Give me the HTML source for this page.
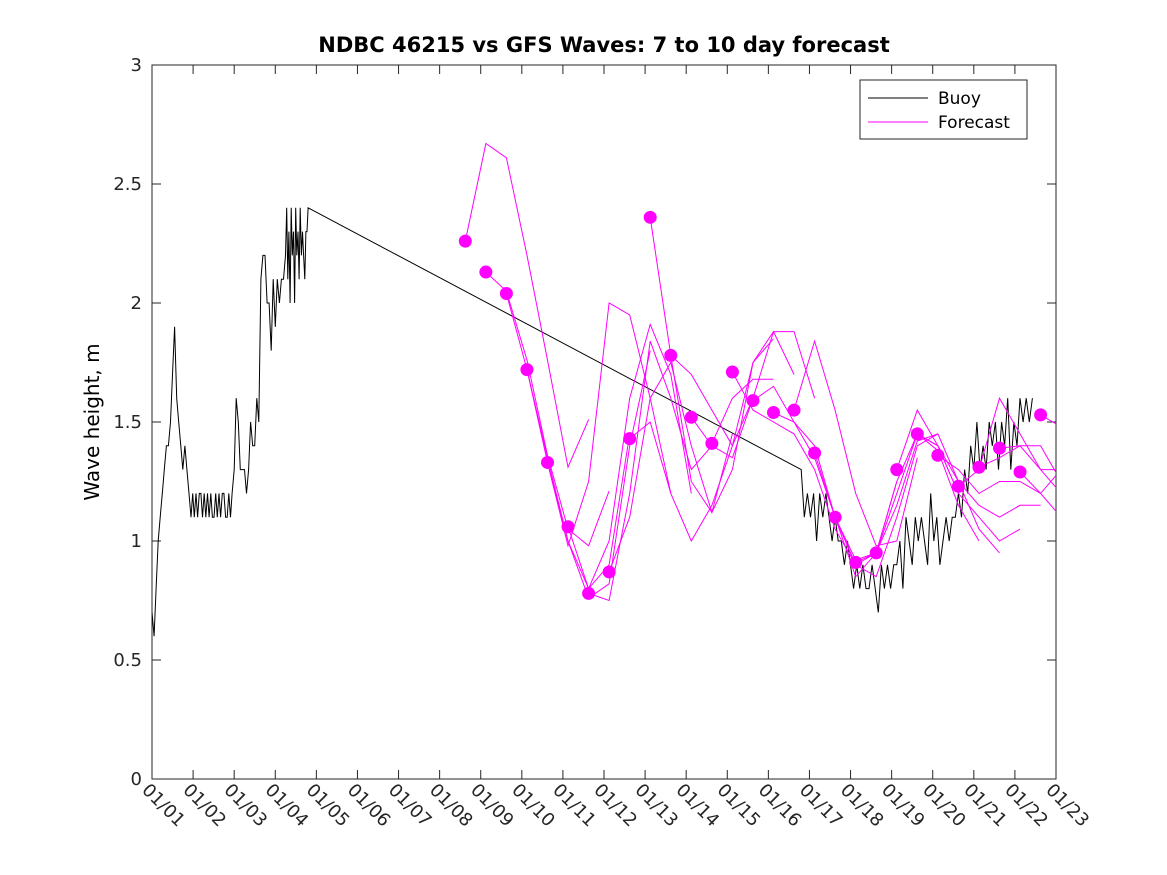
<!DOCTYPE html>
<html><head><meta charset="utf-8"><style>
body{margin:0;background:#fff;}
svg{display:block;font-family:"Liberation Sans","DejaVu Sans",sans-serif;}
</style></head><body>
<svg id="chart" width="1167" height="875" viewBox="0 0 1167 875">
<defs><clipPath id="plotclip"><rect x="152" y="65" width="904" height="714"/></clipPath></defs>
<rect width="1167" height="875" fill="#fff"/>
<text x="604" y="52" text-anchor="middle" font-size="21" font-weight="bold" font-family="DejaVu Sans, sans-serif">NDBC 46215 vs GFS Waves: 7 to 10 day forecast</text>
<text transform="translate(99,422) rotate(-90)" text-anchor="middle" font-size="20" font-family="DejaVu Sans, sans-serif">Wave height, m</text>
<rect x="152" y="65" width="904" height="714" fill="#fff" stroke="#262626" stroke-width="1"/>
<g id="axes"></g>
<g id="series" clip-path="url(#plotclip)"></g>
<g>
<rect x="860" y="80" width="167" height="59" fill="#fff" stroke="#262626"/>
<line x1="868" y1="98" x2="928" y2="98" stroke="#000"/>
<text x="938" y="104" font-size="17" font-family="DejaVu Sans, sans-serif">Buoy</text>
<line x1="868" y1="122" x2="928" y2="122" stroke="#ff00ff"/>
<text x="938" y="128" font-size="17" font-family="DejaVu Sans, sans-serif">Forecast</text>
</g>
</svg>
<script>
const xTickLabels=["01/01","01/02","01/03","01/04","01/05","01/06","01/07","01/08","01/09","01/10","01/11","01/12","01/13","01/14","01/15","01/16","01/17","01/18","01/19","01/20","01/21","01/22","01/23"];
const yTicks=[0,0.5,1,1.5,2,2.5,3];
const yTickLabels=["0","0.5","1","1.5","2","2.5","3"];
const buoySegStart=[0,0.95,2.0,3.25,15.8];
const buoySegStep=[0.05,0.04,0.05,0.0275,0.075];
const buoySegVals=[
[0.7,0.6,0.8,1.0,1.1,1.2,1.3,1.4,1.4,1.5,1.7,1.9,1.6,1.5,1.4,1.3,1.4,1.3,1.2],
[1.1,1.2,1.1,1.2,1.1,1.2,1.2,1.1,1.2,1.1,1.2,1.1,1.2,1.1,1.1,1.2,1.1,1.2,1.1,1.2,1.2,1.1,1.1,1.2,1.1,1.2],
[1.3,1.6,1.5,1.3,1.3,1.3,1.2,1.3,1.5,1.4,1.4,1.6,1.5,2.1,2.2,2.2,2.0,2.0,1.8,2.1,1.9,2.1,2.0,2.1,2.1],
[2.2,2.4,2.1,2.3,2.0,2.4,2.2,2.3,2.0,2.4,2.2,2.3,2.1,2.4,2.2,2.3,2.2,2.1,2.3,2.3,2.4],
[1.3,1.1,1.2,1.1,1.2,1.0,1.2,1.1,1.2,1.1,1.0,1.1,1.0,1.0,0.9,1.0,0.9,0.8,0.9,0.8,0.9,0.8,0.8,0.9,0.8,0.7,0.9,0.8,0.9,0.8,0.9,0.9,1.0,0.8,1.1,1.0,0.9,1.1,1.0,1.1,1.0,0.9,1.2,1.0,1.1,0.9,1.0,1.1,1.0,1.1,1.1,1.2,1.1,1.3,1.2,1.4,1.3,1.5,1.3,1.4,1.3,1.5,1.4,1.5,1.3,1.5,1.4,1.6,1.3,1.5,1.4,1.6,1.5,1.6,1.5,1.6]
];
const forecastStartDay=7.625;
const forecastStep=0.5;
const forecastLines=[
[2.26,2.67,2.61,2.20,1.76,1.31,1.51],
[2.13,2.05,1.76,1.36,1.05,0.98,1.21],
[2.04,1.72,1.35,1.00,0.80,0.90,1.45],
[1.72,1.33,1.00,0.76,0.82,1.40,1.80],
[1.33,0.98,1.25,2.00,1.95,1.60,1.20],
[1.06,0.80,1.00,1.60,1.91,1.70,1.20],
[0.78,0.75,1.20,1.84,1.60,1.30,1.40],
[0.87,1.10,1.60,1.75,1.40,1.12,1.45],
[1.43,1.50,1.20,1.00,1.15,1.40,1.60],
[2.36,1.78,1.25,1.12,1.30,1.75,1.85],
[1.78,1.70,1.55,1.40,1.75,1.88,1.70],
[1.52,1.40,1.35,1.60,1.88,1.88,1.60],
[1.41,1.60,1.68,1.68],
[1.71,1.55,1.50,1.45,1.30,1.05,0.90],
[1.59,1.65,1.50,1.35,1.10,0.90,0.95],
[1.54,1.50,1.40,1.10,0.92,0.95,1.25],
[1.55,1.84,1.55,1.20,0.98,1.00,1.35],
[1.37,1.10,0.90,0.85,1.10,1.40,1.45],
[1.10,0.85,0.95,1.25,1.45,1.40,1.20],
[0.91,0.95,1.20,1.45,1.38,1.15,1.00],
[0.95,1.15,1.42,1.45,1.25,1.05,0.95],
[1.30,1.55,1.40,1.20,1.10,1.00,1.05],
[1.45,1.40,1.25,1.15,1.10,1.15,1.15],
[1.36,1.30,1.20,1.25,1.25,1.20,1.10],
[1.23,1.30,1.60,1.45,1.30,1.20,1.08],
[1.31,1.35,1.40,1.40,1.25,1.15],
[1.39,1.40,1.30,1.30,1.40],
[1.29,1.20,1.30],
[1.53,1.48,1.75]
];
const NS="http://www.w3.org/2000/svg";
const X0=152,X1=1056,Y0=779,Y1=65,DAYS=22,YMAX=3;
function xs(d){return X0+(X1-X0)*d/DAYS;}
function ys(v){return Y0-(Y0-Y1)*v/YMAX;}
function mk(tag,attrs,parent){const e=document.createElementNS(NS,tag);for(const k in attrs)e.setAttribute(k,attrs[k]);parent.appendChild(e);return e;}
const axes=document.getElementById('axes'),series=document.getElementById('series');
yTicks.forEach((v,i)=>{
  const y=ys(v);
  const t1=mk('line',{x1:X0,y1:y,x2:X0+9,y2:y,stroke:'#262626'},axes);
  
  
  const t2=mk('line',{x1:X1,y1:y,x2:X1-9,y2:y,stroke:'#262626'},axes);
  
  
  const tx=mk('text',{x:X0-10,y:y+6,'text-anchor':'end','font-size':'18','font-family':'DejaVu Sans, sans-serif',fill:'#262626'},axes);
  tx.textContent=yTickLabels[i];
  
  
});
xTickLabels.forEach((lab,i)=>{
  const x=xs(i);
  const t1=mk('line',{x1:x,y1:Y0,x2:x,y2:Y0-9,stroke:'#262626'},axes);
  
  
  const t2=mk('line',{x1:x,y1:Y1,x2:x,y2:Y1+9,stroke:'#262626'},axes);
  
  
  const tx=mk('text',{transform:`translate(${x-11},${Y0+12}) rotate(45)`,'font-size':'18','font-family':'DejaVu Sans, sans-serif',fill:'#262626'},axes);
  tx.textContent=lab;
  
  
});
let bpts=[];
buoySegVals.forEach((vals,s)=>{vals.forEach((v,j)=>{bpts.push(xs(buoySegStart[s]+buoySegStep[s]*j).toFixed(1)+','+ys(v).toFixed(1));});});
const bl=mk('polyline',{points:bpts.join(' '),fill:'none',stroke:'#000','stroke-width':'1'},series);


forecastLines.forEach((vals,k)=>{
  const t0=forecastStartDay+forecastStep*k;
  const pts=vals.map((v,j)=>xs(t0+forecastStep*j).toFixed(1)+','+ys(v).toFixed(1));
  const pl=mk('polyline',{points:pts.join(' '),fill:'none',stroke:'#ff00ff','stroke-width':'1'},series);
  
  
});
forecastLines.forEach((vals,k)=>{
  const t0=forecastStartDay+forecastStep*k;
  const c=mk('circle',{cx:xs(t0),cy:ys(vals[0]),r:6.5,fill:'#ff00ff'},series);
  
  
});
</script>
</body></html>
